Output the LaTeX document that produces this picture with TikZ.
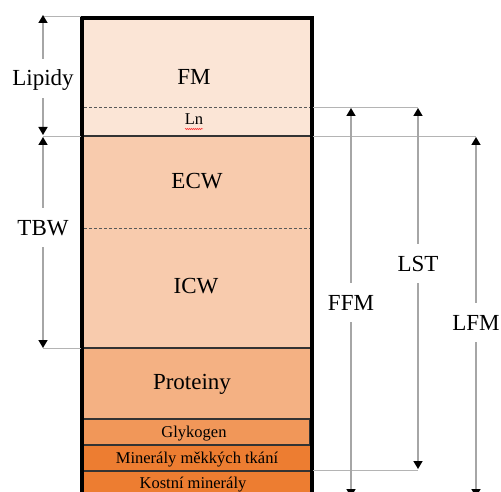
\documentclass[tikz,border=0pt]{standalone}
\usepackage{fontspec}
\setmainfont{Liberation Serif}
\usetikzlibrary{arrows.meta,decorations.pathmorphing}
\definecolor{cFM}{HTML}{FBE5D6}
\definecolor{cW}{HTML}{F8CBAD}
\definecolor{cP}{HTML}{F4B183}
\definecolor{cG}{HTML}{F19759}
\definecolor{cM}{HTML}{ED7D31}
\definecolor{cLine}{HTML}{A6A6A6}
\definecolor{cExt}{HTML}{B4B4B4}
\begin{document}
\begin{tikzpicture}[x=1pt,y=-1pt,
  dimline/.style={draw=cLine, line width=1.6pt, -{Triangle[width=9pt,length=8pt,color=black]}},
  extline/.style={draw=cExt, line width=0.9pt},
  cellline/.style={draw=black!80, line width=1.1pt},
  dashline/.style={draw=black!65, line width=0.7pt, dash pattern=on 3pt off 2pt},
  biglabel/.style={font=\fontsize{23}{23}\selectfont, text height=15pt, text depth=0pt, inner ysep=12pt, inner xsep=2pt, anchor=base},
  bigtext/.style={font=\fontsize{23}{23}\selectfont, anchor=base, inner sep=0pt},
  smalltext/.style={font=\fontsize{16.5}{16.5}\selectfont, anchor=base, inner sep=0pt}
]
\useasboundingbox (0,0) rectangle (501,492);
\clip (0,0) rectangle (501,492);
% fills
\fill[cFM] (82,18) rectangle (312,136);
\fill[cW] (82,136) rectangle (312,348);
\fill[cP] (82,348) rectangle (312,419);
\fill[cG] (82,419) rectangle (310,445);
\fill[cM] (82,445) rectangle (312,471);
\fill[cM] (82,471) rectangle (312,500);
% separators
\draw[dashline] (84,107) -- (310,107);
\draw[dashline] (84,228) -- (310,228);
\draw[cellline] (84,136) -- (310,136);
\draw[cellline] (84,348) -- (310,348);
\draw[cellline] (84,419) -- (310,419);
\draw[cellline] (310,419) -- (310,445);
\draw[cellline] (84,445) -- (310,445);
\draw[cellline] (84,471) -- (310,471);
% outer border
\draw[line width=3.6pt] (82,500) -- (82,17.8) -- (312,17.8) -- (312,500);
% cell texts
\node[bigtext] (fm) at (194,85) {FM};
\node[smalltext] (ln) at (194,125) {Ln};
\draw[red!80, line width=0.5pt, decorate, decoration={snake, amplitude=0.7pt, segment length=2pt}] (185,129) -- (203,129);
\node[bigtext] (ecw) at (197,189) {ECW};
\node[bigtext] (icw) at (196,293) {ICW};
\node[bigtext] (prot) at (192,389) {Proteiny};
\node[smalltext] (glyk) at (194,437) {Glykogen};
\node[smalltext] (minm) at (197,463) {Minerály měkkých tkání};
\node[smalltext] (kost) at (193,488) {Kostní minerály};
% extension lines
\coordinate (e1a) at (43,16);  \coordinate (e1b) at (81,16);
\coordinate (e2a) at (43,136); \coordinate (e2b) at (81,136);
\coordinate (e3a) at (43,348); \coordinate (e3b) at (81,348);
\coordinate (e4a) at (313,107); \coordinate (e4b) at (418,107);
\coordinate (e5a) at (313,136); \coordinate (e5b) at (476,136);
\coordinate (e6a) at (313,470); \coordinate (e6b) at (418,470);
\draw[extline] (e1a) -- (e1b);
\draw[extline] (e2a) -- (e2b);
\draw[extline] (e3a) -- (e3b);
\draw[extline] (e4a) -- (e4b);
\draw[extline] (e5a) -- (e5b);
\draw[extline] (e6a) -- (e6b);
% dimension labels
\node[biglabel] (lipidy) at (43,86) {Lipidy};
\node[biglabel] (tbw) at (43,235) {TBW};
\node[biglabel] (lst) at (418,271) {LST};
\node[biglabel] (ffm) at (351,310) {FFM};
\node[biglabel] (lfm) at (476,330) {LFM};
% arrow ends
\coordinate (lipT) at (43,15);
\coordinate (lipB) at (43,135);
\coordinate (tbwT) at (43,137);
\coordinate (tbwB) at (43,348);
\coordinate (lstT) at (418,108);
\coordinate (lstB) at (418,469);
\coordinate (ffmT) at (351,108);
\coordinate (ffmB) at (351,497);
\coordinate (lfmT) at (476,137);
\coordinate (lfmB) at (476,497);
\draw[dimline] (lipidy) -- (lipT);
\draw[dimline] (lipidy) -- (lipB);
\draw[dimline] (tbw) -- (tbwT);
\draw[dimline] (tbw) -- (tbwB);
\draw[dimline] (lst) -- (lstT);
\draw[dimline] (lst) -- (lstB);
\draw[dimline] (ffm) -- (ffmT);
\draw[dimline] (ffm) -- (ffmB);
\draw[dimline] (lfm) -- (lfmT);
\draw[dimline] (lfm) -- (lfmB);
\end{tikzpicture}
\end{document}
